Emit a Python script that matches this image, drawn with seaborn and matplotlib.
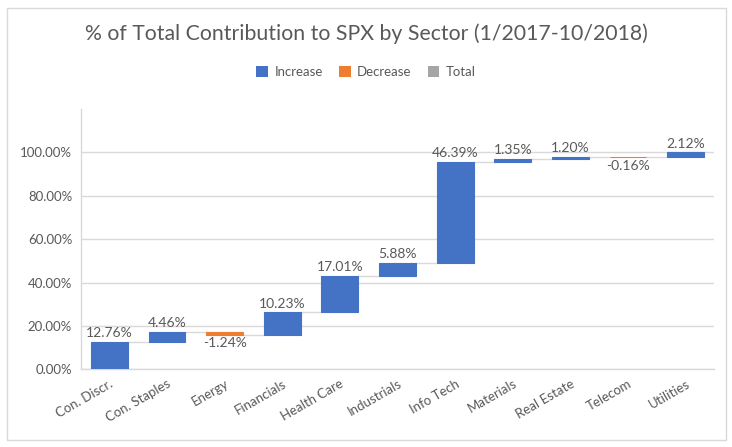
import numpy as np
import pandas as pd
import matplotlib
matplotlib.use("Agg")
import matplotlib.pyplot as plt
import seaborn as sns
from matplotlib.patches import Patch
from matplotlib.ticker import PercentFormatter

# data (percent of total contribution)
sectors = ["Con. Discr.", "Con. Staples", "Energy", "Financials", "Health Care",
           "Industrials", "Info Tech", "Materials", "Real Estate", "Telecom", "Utilities"]
changes = [12.76, 4.46, -1.24, 10.23, 17.01, 5.88, 46.39, 1.35, 1.20, -0.16, 2.12]
legend_labels = ["Increase", "Decrease", "Total"]

colors = {"Increase": "#4472C4", "Decrease": "#ED7D31", "Total": "#A5A5A5"}
text_grey = "#595959"
line_grey = "#D9D9D9"

# waterfall bookkeeping
vals = np.array(changes) / 100.0
ends = np.cumsum(vals)
starts = ends - vals
bottoms = np.minimum(starts, ends)
df = pd.DataFrame({
    "sector": sectors,
    "height": np.abs(vals),
    "kind": ["Increase" if v >= 0 else "Decrease" for v in vals],
})

sns.set_style("white")
plt.rcParams["font.family"] = ["Lato", "DejaVu Sans"]

fig = plt.figure(figsize=(7.32, 4.47), dpi=100)
ax = fig.add_axes([0.110, 0.174, 0.866, 0.582])

sns.barplot(data=df, x="sector", y="height", hue="kind", hue_order=legend_labels,
            palette=colors, dodge=False, width=0.64, legend=False, ax=ax,
            saturation=1)

# lift every bar onto its running-total base; thin edge keeps tiny bars visible
for p in ax.patches:
    i = int(round(p.get_x() + p.get_width() / 2))
    p.set_y(bottoms[i])
    p.set_edgecolor(p.get_facecolor())
    p.set_linewidth(0.8)
    p.set_zorder(3)

# connectors between bars
half = 0.32
for i in range(len(vals) - 1):
    ax.plot([i + half, i + 1 - half], [ends[i], ends[i]], color=line_grey,
            lw=1.0, zorder=1)

# value labels
for i, v in enumerate(vals):
    if v >= 0:
        ax.annotate(f"{changes[i]:.2f}%", (i, ends[i]), xytext=(0, 2),
                    textcoords="offset points", ha="center", va="bottom",
                    fontsize=10, color=text_grey)
    else:
        ax.annotate(f"{changes[i]:.2f}%", (i, ends[i]), xytext=(0, -2),
                    textcoords="offset points", ha="center", va="top",
                    fontsize=10, color=text_grey)

ax.set_ylim(0, 1.2)
ax.set_xlim(-0.5, len(sectors) - 0.5)
ax.set_yticks(np.arange(0, 1.01, 0.2))
ax.yaxis.set_major_formatter(PercentFormatter(1.0, decimals=2))
ax.grid(axis="y", color=line_grey, lw=1.0)
ax.set_axisbelow(True)
ax.set_xlabel("")
ax.set_ylabel("")
ax.tick_params(axis="both", length=0, labelsize=9.5, colors=text_grey, pad=6)
plt.setp(ax.get_xticklabels(), rotation=30, ha="right", rotation_mode="anchor")
for s in ["top", "right"]:
    ax.spines[s].set_visible(False)
for s in ["left", "bottom"]:
    ax.spines[s].set_color(line_grey)
    ax.spines[s].set_linewidth(1.0)

fig.suptitle("% of Total Contribution to SPX by Sector (1/2017-10/2018)",
             y=0.948, fontsize=15.3, color=text_grey)

handles = [Patch(facecolor=colors[k], edgecolor="none") for k in legend_labels]
fig.legend(handles, legend_labels, loc="center", bbox_to_anchor=(0.5, 0.838),
           ncol=3, frameon=False, fontsize=9.5, labelcolor=text_grey,
           handlelength=0.9, handleheight=0.9, handletextpad=0.5, columnspacing=1.2)

# outer chart border
fig.patches.append(plt.Rectangle((0.010, 0.016), 0.982, 0.966, transform=fig.transFigure,
                                 fill=False, edgecolor=line_grey, lw=1.0))

fig.savefig("out.png", dpi=100)
